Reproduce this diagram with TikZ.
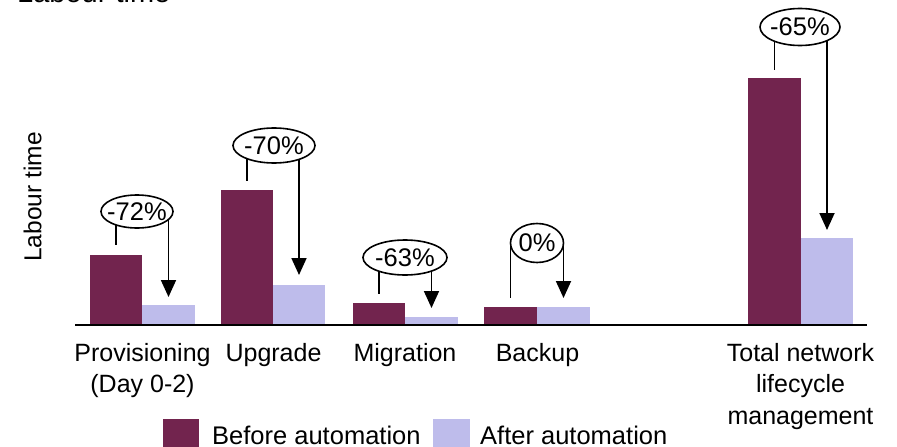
\documentclass[tikz,border=0pt]{standalone}
\usepackage{fontspec}
\setmainfont{Liberation Sans}
\usetikzlibrary{shapes.geometric,arrows.meta,backgrounds}
\definecolor{before}{RGB}{114,36,78}
\definecolor{after}{RGB}{190,188,235}
\newcommand\pctxt[1]{\makebox[0pt]{#1}}
\begin{document}
\begin{tikzpicture}[x=1pt,y=-1pt,
  lbl/.style={font=\fontsize{25}{31.5}\selectfont, inner sep=0pt, align=center, anchor=north},
  pct/.style={ellipse, draw, line width=1.6pt, fill=white, inner sep=0pt, font=\fontsize{25.5}{28}\selectfont},
  bbar/.style={fill=before},
  abar/.style={fill=after},
  leg/.style={line width=1.8pt},
  arr/.style={line width=1.8pt, -{Triangle[width=15pt,length=17pt]}},
  legtxt/.style={font=\fontsize{25.5}{28}\selectfont, inner sep=0pt, anchor=base west}]
\useasboundingbox (0,0) rectangle (897,447);
\clip (0,0) rectangle (897,447);

% cut-off title and axis label
\node[font=\fontsize{29}{32}\selectfont, inner sep=0pt, anchor=base west] (title) at (17,2.5) {Labour time};
\node[font=\fontsize{24.5}{28}\selectfont, inner sep=0pt, rotate=90] (ylab) at (32.5,197) {Labour time};

% bars
\fill[bbar] (90,255) rectangle (142,324);
\fill[abar] (142,305) rectangle (195,324);
\fill[bbar] (221,190) rectangle (273,324);
\fill[abar] (273,285) rectangle (325,324);
\fill[bbar] (353,303) rectangle (405,324);
\fill[abar] (405,317) rectangle (458,324);
\fill[bbar] (484,307) rectangle (537,324);
\fill[abar] (537,307) rectangle (590,324);
\fill[bbar] (748,78) rectangle (801,324);
\fill[abar] (801,238) rectangle (853,324);

% axis
\coordinate (ax0) at (75,325);
\coordinate (ax1) at (867,325);
\draw[line width=2pt] (ax0) -- (ax1);

% callouts
\node[pct, minimum width=72pt, minimum height=33pt] (e1) at (137,211.5) {\pctxt{-72\%}};
\node[pct, minimum width=82pt, minimum height=35pt] (e2) at (274,145.5) {\pctxt{-70\%}};
\node[pct, minimum width=84pt, minimum height=35pt] (e3) at (405,257.5) {\pctxt{-63\%}};
\node[pct, minimum width=53pt, minimum height=39pt] (e4) at (537,243) {\pctxt{0\%}};
\node[pct, minimum width=80pt, minimum height=37pt] (e5) at (800,27) {\pctxt{-65\%}};

\coordinate (l1) at (116,245);   \coordinate (r1) at (168.5,297);
\coordinate (l2) at (247,181);   \coordinate (r2) at (299,275);
\coordinate (l3) at (379,294);   \coordinate (r3) at (431.5,308);
\coordinate (l4) at (510.5,298); \coordinate (r4) at (563.5,298);
\coordinate (l5) at (774.5,70);  \coordinate (r5) at (827,230);

\begin{scope}[on background layer]
\foreach \i in {1,...,5}{
  \draw[leg] (e\i.center -| l\i) -- (l\i);
  \draw[arr] (e\i.center -| r\i) -- (r\i);
}
\end{scope}

% category labels
\node[lbl] (c1) at (142.5,343) {Provisioning\\(Day 0-2)};
\node[lbl] (c2) at (273.5,343) {Upgrade};
\node[lbl] (c3) at (405,343) {Migration};
\node[lbl] (c4) at (537.5,343) {Backup};
\node[lbl] (c5) at (800.5,343) {Total network\\lifecycle\\management};

% legend
\fill[bbar] (163,419) rectangle (199,456);
\node[legtxt] (lg1) at (212,444) {Before automation};
\fill[abar] (433,419) rectangle (470,456);
\node[legtxt] (lg2) at (480,444) {After automation};
\end{tikzpicture}
\end{document}
